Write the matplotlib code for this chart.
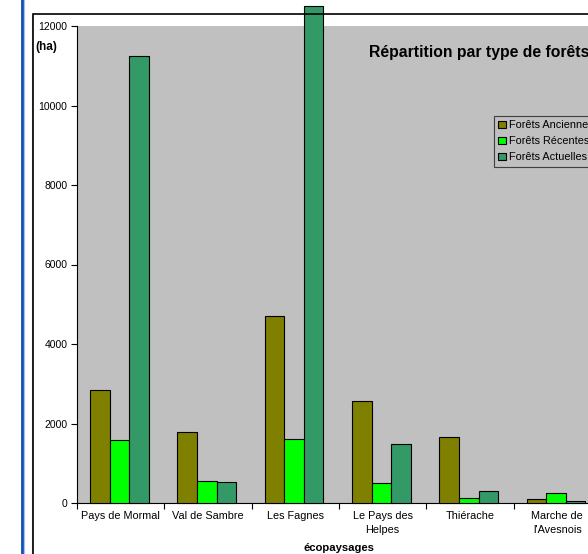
import numpy as np
import matplotlib.pyplot as plt
from matplotlib.patches import Rectangle, Patch
from matplotlib.lines import Line2D

plt.rcParams['font.family'] = ['Liberation Sans', 'DejaVu Sans']

# data (ha)
categories = ['Pays de Mormal', 'Val de Sambre', 'Les Fagnes', 'Le Pays des\nHelpes',
              'Thiérache', "Marche de\nl'Avesnois"]
anciennes = [2840, 1790, 4700, 2570, 1660, 100]
recentes = [1585, 555, 1610, 500, 130, 250]
actuelles = [11250, 530, 12500, 1480, 300, 40]
series_names = ['Forêts Anciennes', 'Forêts Récentes', 'Forêts Actuelles']
colors = ['#808000', '#00FF00', '#339966']

W, H = 588, 554
fig = plt.figure(figsize=(W / 100, H / 100), dpi=100)
fig.patch.set_facecolor('white')

# plot area (runs past the right edge, like the cropped original)
x0, x1, ytop, ybot = 77, 601, 26, 503
ax = fig.add_axes([x0 / W, (H - ybot) / H, (x1 - x0) / W, (ybot - ytop) / H])
ax.set_facecolor('#C0C0C0')

x = np.arange(len(categories))
bw = 0.225
for i, (vals, c) in enumerate(zip([anciennes, recentes, actuelles], colors)):
    ax.bar(x + (i - 1) * bw - 0.015, vals, bw, color=c, edgecolor='black',
           linewidth=0.8, clip_on=False, zorder=3)

ax.set_xlim(-0.5, len(categories) - 0.5)
ax.set_ylim(0, 12000)
ax.set_yticks(np.arange(0, 12001, 2000))
ax.set_xticks(x)
ax.set_xticklabels(categories, linespacing=1.4)
ax.set_xticks(np.arange(-0.5, len(categories)), minor=True)
ax.tick_params(axis='x', which='major', length=0, pad=6, labelsize=7.8)
ax.tick_params(axis='x', which='minor', length=4, direction='out', width=0.8)
ax.tick_params(axis='y', length=4, width=0.8, pad=3, labelsize=7.5)
for s in ['top', 'right']:
    ax.spines[s].set_visible(False)
for s in ['left', 'bottom']:
    ax.spines[s].set_linewidth(0.8)

handles = [Patch(facecolor=c, edgecolor='black', linewidth=0.8) for c in colors]
leg = ax.legend(handles, series_names, loc='upper left',
                bbox_to_anchor=(494 / W, 1 - 116 / H), bbox_transform=fig.transFigure,
                fontsize=7.8, handlelength=0.7, handleheight=0.7, handletextpad=0.3,
                labelspacing=0.55, borderpad=0.4, borderaxespad=0,
                fancybox=False, framealpha=1, facecolor='#C0C0C0', edgecolor='#404040')
leg.get_frame().set_linewidth(0.8)

# titles
fig.text(369 / W, 1 - 52 / H, 'Répartition par type de forêts', fontsize=11.3,
         fontweight='bold', va='center', ha='left')
fig.text(35 / W, 1 - 47 / H, '(ha)', fontsize=8.5, fontweight='bold', va='center', ha='left')
fig.text(339 / W, 1 - 548 / H, 'écopaysages', fontsize=8.1, fontweight='bold',
         va='center', ha='center')

# chart frame and page border
fig.add_artist(Rectangle((33 / W, -0.1), 1.0, 0.1 + (H - 14) / H, transform=fig.transFigure,
                         fill=False, edgecolor='black', linewidth=1.2, zorder=5))
fig.add_artist(Line2D([32 / W, 32 / W], [0, (H - 15) / H], transform=fig.transFigure,
                      color='#B0B0B0', linewidth=0.8, zorder=4))
fig.add_artist(Line2D([22 / W, 22 / W], [0, 1], transform=fig.transFigure,
                      color='#0A4FB4', linewidth=2.0, zorder=5))
fig.add_artist(Line2D([24 / W, 24 / W], [0, 1], transform=fig.transFigure,
                      color='#A8C0E8', linewidth=0.8, zorder=5))

fig.savefig('out.png', dpi=100)
